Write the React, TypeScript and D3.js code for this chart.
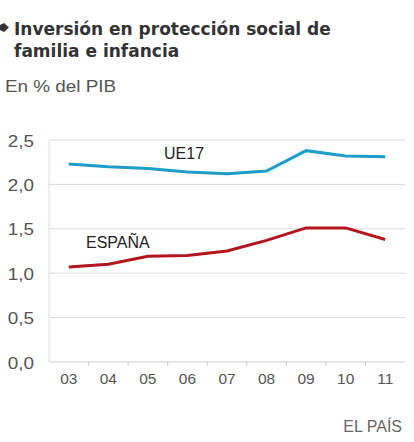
import React from "react";
import * as d3 from "d3";

const years = ["03", "04", "05", "06", "07", "08", "09", "10", "11"];
const ue17 = [2.23, 2.2, 2.18, 2.14, 2.12, 2.15, 2.38, 2.32, 2.31];
const espana = [1.07, 1.1, 1.19, 1.2, 1.25, 1.37, 1.51, 1.51, 1.38];
const yTicks = [0, 0.5, 1, 1.5, 2, 2.5];

const W = 414;
const H = 442;
const left = 49;
const right = 405;
const top = 140;
const bottom = 362;

export default function App() {
  const x = d3.scaleBand<string>().domain(years).range([left, right]);
  const y = d3.scaleLinear().domain([0, 2.5]).range([bottom, top]);
  const cx = (d: string) => (x(d) as number) + x.bandwidth() / 2;
  const line = d3
    .line<number>()
    .x((_, i) => cx(years[i]))
    .y((v) => y(v));
  const font = "Liberation Sans, Arial, sans-serif";
  const fmt = (v: number) => v.toFixed(1).replace(".", ",");
  return (
    <svg
      width={W}
      height={H}
      style={{ position: "absolute", left: 0, top: 0, background: "#fff" }}
      fontFamily={font}
    >
      <path d="M0,25 L4,23 L9,27.5 L4,32 L0,30 Z" fill="#333" />
      <text
        x={14}
        y={35}
        fontSize={17}
        fontWeight="bold"
        fill="#333"
        fontFamily="DejaVu Sans, Verdana, sans-serif"
      >
        Inversión en protección social de
      </text>
      <text
        x={14}
        y={57}
        fontSize={17}
        fontWeight="bold"
        fill="#333"
        fontFamily="DejaVu Sans, Verdana, sans-serif"
      >
        familia e infancia
      </text>
      <g transform="translate(5,92) scale(1.18,1)">
        <text x={0} y={0} fontSize={16} fill="#555">
          En % del PIB
        </text>
      </g>
      {yTicks.map((t) => (
        <g key={t}>
          <line
            x1={left}
            x2={right}
            y1={y(t)}
            y2={y(t)}
            stroke={t === 0 ? "#ccc" : "#d9d9d9"}
            strokeWidth={1}
          />
          <g transform={`translate(34,${y(t) + 6.5}) scale(1.18,1)`}>
            <text x={0} y={0} textAnchor="end" fontSize={16} fill="#555">
              {fmt(t)}
            </text>
          </g>
        </g>
      ))}
      <line x1={left} x2={left} y1={top} y2={bottom} stroke="#ddd" />
      {years.map((yr, i) => (
        <g key={yr}>
          {i > 0 && (
            <line
              x1={x(yr)}
              x2={x(yr)}
              y1={bottom}
              y2={bottom + 4}
              stroke="#ccc"
            />
          )}
          <text
            x={cx(yr)}
            y={384}
            textAnchor="middle"
            fontSize={15.5}
            fill="#555"
          >
            {yr}
          </text>
        </g>
      ))}
      <path d={line(ue17) || ""} fill="none" stroke="#1d9dc8" strokeWidth={3} />
      <path d={line(espana) || ""} fill="none" stroke="#b4141e" strokeWidth={3} />
      <text x={164} y={159} fontSize={16} fill="#222">
        UE17
      </text>
      <text x={86} y={248} fontSize={16} fill="#222">
        ESPAÑA
      </text>
      <text x={402} y={432} textAnchor="end" fontSize={16} fill="#666">
        EL PAÍS
      </text>
    </svg>
  );
}
